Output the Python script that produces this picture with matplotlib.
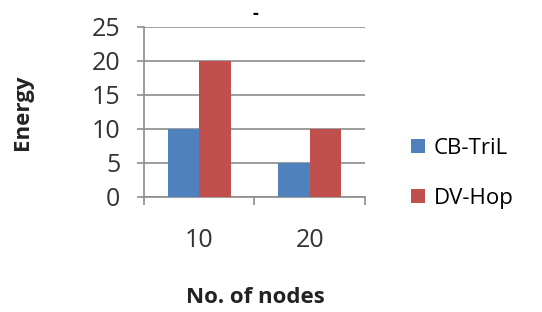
import matplotlib.pyplot as plt
import numpy as np

# data
categories = ['10', '20']
series_names = ['CB-TriL', 'DV-Hop']
cb_tril = [10, 5]
dv_hop = [20, 10]
yticks = [0, 5, 10, 15, 20, 25]

plt.rcParams['font.family'] = ['Open Sans', 'DejaVu Sans']

fig = plt.figure(figsize=(5.42, 3.12), dpi=100)
ax = fig.add_axes([0.2657, 0.3686, 0.4077, 0.545])

x = np.arange(len(categories))
w = 0.285
ax.bar(x - w / 2, cb_tril, w, color='#4F81BD', label=series_names[0], zorder=3)
ax.bar(x + w / 2, dv_hop, w, color='#C0504D', label=series_names[1], zorder=3)

ax.set_xlim(-0.5, 1.5)
ax.set_ylim(0, 25)
ax.set_yticks(yticks)
ax.yaxis.grid(True, color='#8c8c8c', linewidth=1.2, zorder=0)
ax.set_axisbelow(True)

ax.set_xticks(x)
ax.set_xticklabels(categories)
ax.set_xticks([-0.5, 0.5, 1.5], minor=True)
ax.tick_params(axis='x', which='major', length=0, pad=22, labelsize=18, labelcolor='#333333')
ax.tick_params(axis='x', which='minor', length=6, width=1.2, color='#8c8c8c')
ax.tick_params(axis='y', length=5, width=1.2, color='#8c8c8c', pad=12, labelsize=18, labelcolor='#333333')

for s in ['top', 'right']:
    ax.spines[s].set_visible(False)
for s in ['left', 'bottom']:
    ax.spines[s].set_color('#8c8c8c')
    ax.spines[s].set_linewidth(1.2)

fig.text(0.042, 0.64, 'Energy', rotation=90, ha='center', va='center', fontsize=16,
         fontweight='bold', color='#222222')
fig.text(0.471, 0.045, 'No. of nodes', ha='center', va='center', fontsize=16,
         fontweight='bold', color='#222222')
fig.text(0.471, 0.955, '-', ha='center', va='center', fontsize=13, fontweight='bold')

ax.legend(loc='center left', bbox_to_anchor=(1.12, 0.14), frameon=False, fontsize=16,
          handlelength=0.6, handleheight=0.6, labelspacing=1.3, handletextpad=0.4)

fig.savefig('out.png', dpi=100)
